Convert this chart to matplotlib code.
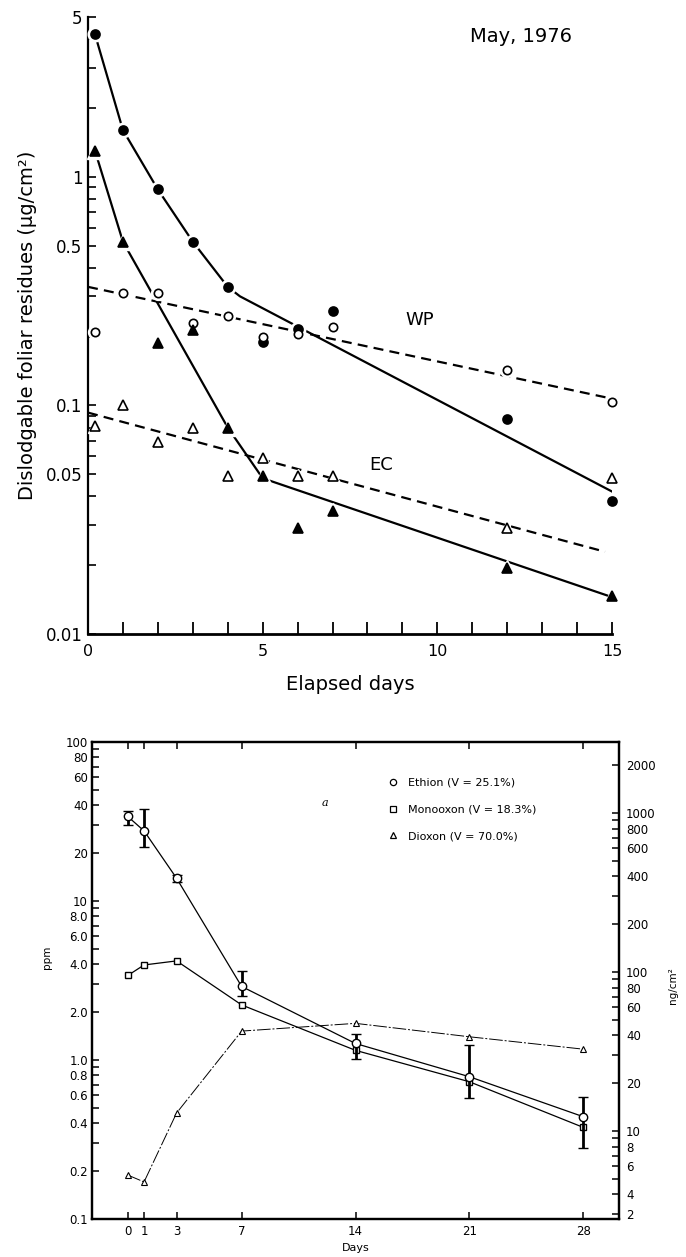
import matplotlib
matplotlib.use("Agg")
import matplotlib.pyplot as plt
from matplotlib.ticker import FixedLocator, FixedFormatter, NullFormatter, LogLocator, MultipleLocator
from matplotlib.lines import Line2D
import numpy as np

plt.rcParams['font.family'] = ['DejaVu Sans']

# ---------------- top panel data (May, 1976) ----------------
top_days = [0.2, 1, 2, 3, 4, 5, 6, 7, 12, 15]
wp_filled = [4.2, 1.6, 0.88, 0.52, 0.33, 0.19, 0.215, 0.26, 0.087, 0.038]      # filled circles
wp_open = [0.21, 0.31, 0.31, 0.23, 0.247, 0.20, 0.205, 0.22, 0.143, 0.103]     # open circles
ec_filled = [1.3, 0.52, 0.188, 0.214, 0.080, 0.049, 0.029, 0.0345, 0.0195, 0.0147]  # filled triangles
ec_open = [0.081, 0.100, 0.069, 0.080, 0.049, 0.059, 0.049, 0.049, 0.029, 0.048]   # open triangles

# drawn curves / fitted lines
wp_curve_days = [0.2, 1, 2, 3, 4, 4.35, 15]
wp_curve_vals = [4.2, 1.6, 0.88, 0.52, 0.33, 0.30, 0.042]
ec_curve_days = [0.2, 1, 4, 5, 15]
ec_curve_vals = [1.3, 0.52, 0.080, 0.048, 0.0145]
wp_fit_days = [0, 15]
wp_fit_vals = [0.33, 0.107]
ec_fit_days = [0, 14.8]
ec_fit_vals = [0.093, 0.0229]

top_yticks = [0.01, 0.05, 0.1, 0.5, 1, 5]
top_yticklabels = ['0.01', '0.05', '0.1', '0.5', '1', '5']
top_xticks = [0, 5, 10, 15]

# ---------------- bottom panel data ----------------
days = [0, 1, 3, 7, 14, 21, 28]
ethion = [34, 27.6, 13.9, 2.9, 1.27, 0.785, 0.44]
ethion_lo = [30, 21.8, 13.2, 2.52, 1.01, 0.574, 0.281]
ethion_hi = [37, 37.9, 14.6, 3.64, 1.46, 1.24, 0.588]
monooxon = [3.4, 3.96, 4.2, 2.22, 1.15, 0.73, 0.377]
dioxon = [0.189, 0.171, 0.464, 1.52, 1.70, 1.40, 1.17]

left_ticks = [0.1, 0.2, 0.4, 0.6, 0.8, 1.0, 2.0, 4.0, 6.0, 8.0, 10, 20, 40, 60, 80, 100]
left_labels = ['0.1', '0.2', '0.4', '0.6', '0.8', '1.0', '2.0', '4.0', '6.0', '8.0',
               '10', '20', '40', '60', '80', '100']
left_minor = [0.3, 0.5, 0.7, 0.9, 3, 5, 7, 9, 30, 50, 70, 90]
ppm_to_ng = 28.0
right_ticks = [3, 4, 6, 8, 10, 20, 40, 60, 80, 100, 200, 400, 600, 800, 1000, 2000]
right_labels = ['2', '4', '6', '8', '10', '20', '40', '60', '80', '100',
                '200', '400', '600', '800', '1000', '2000']
right_minor = [5, 7, 9, 30, 50, 70, 90, 300, 500, 700, 900]
legend_labels = ['Ethion (V = 25.1%)', 'Monooxon (V = 18.3%)', 'Dioxon (V = 70.0%)']

W, H = 686, 1257
fig = plt.figure(figsize=(W / 100, H / 100), dpi=100)

# ======================= TOP PANEL =======================
ax1 = fig.add_axes([88 / W, 1 - 634 / H, 524 / W, 617 / H])
ax1.set_yscale('log')
ax1.set_ylim(0.01, 5)
ax1.set_xlim(0, 15)
for s in ['top', 'right']:
    ax1.spines[s].set_visible(False)
ax1.spines['left'].set_linewidth(1.6)
ax1.spines['bottom'].set_linewidth(2.0)

ax1.yaxis.set_major_locator(FixedLocator(top_yticks))
ax1.yaxis.set_major_formatter(FixedFormatter(top_yticklabels))
ax1.yaxis.set_minor_locator(LogLocator(base=10, subs=np.arange(2, 10)))
ax1.yaxis.set_minor_formatter(NullFormatter())
ax1.xaxis.set_major_locator(FixedLocator(top_xticks))
ax1.xaxis.set_minor_locator(MultipleLocator(1))
ax1.tick_params(axis='y', which='both', direction='in', length=6, width=1.2, labelsize=12, pad=4)
ax1.tick_params(axis='x', which='both', direction='in', length=9, width=1.3, labelsize=11.5, pad=7)

lw = 1.6
ax1.plot(wp_curve_days, wp_curve_vals, color='black', lw=lw, zorder=2)
ax1.plot(ec_curve_days, ec_curve_vals, color='black', lw=lw, zorder=2)
ax1.plot(wp_fit_days, wp_fit_vals, color='black', lw=lw, ls=(0, (4.5, 2.8)), zorder=2)
ax1.plot(ec_fit_days, ec_fit_vals, color='black', lw=lw, ls=(0, (4.5, 2.8)), zorder=2)

series = [(wp_filled, 'o', True, 6.5), (wp_open, 'o', False, 6.0),
          (ec_filled, '^', True, 7.0), (ec_open, '^', False, 6.5)]
for vals, m, filled, ms in series:
    ax1.plot(top_days, vals, ls='none', marker=m, ms=ms + 4, mfc='white', mec='white',
             zorder=3, clip_on=False)
for vals, m, filled, ms in series:
    ax1.plot(top_days, vals, ls='none', marker=m, ms=ms, mfc='black' if filled else 'white',
             mec='black', mew=1.2, zorder=4, clip_on=False)

ax1.text(12.4, 4.1, 'May, 1976', fontsize=14, ha='center', va='center')
ax1.text(9.5, 0.236, 'WP', fontsize=13, ha='center', va='center')
ax1.text(8.4, 0.055, 'EC', fontsize=13, ha='center', va='center')
ax1.set_xlabel('Elapsed days', fontsize=14, labelpad=12)
ax1.set_ylabel('Dislodgable foliar residues (μg/cm²)', fontsize=14, labelpad=6)

# ======================= BOTTOM PANEL =======================
ax2 = fig.add_axes([92 / W, 38 / H, 527 / W, 477 / H])
ax2.set_yscale('log')
ax2.set_ylim(0.1, 100)
ax2.set_xlim(-2.2, 30.2)
for s in ax2.spines.values():
    s.set_linewidth(1.6)
ax2.yaxis.set_major_locator(FixedLocator(left_ticks))
ax2.yaxis.set_major_formatter(FixedFormatter(left_labels))
ax2.yaxis.set_minor_locator(FixedLocator(left_minor))
ax2.yaxis.set_minor_formatter(NullFormatter())
ax2.xaxis.set_major_locator(FixedLocator(days))
ax2.xaxis.set_minor_locator(FixedLocator([]))
ax2.tick_params(axis='y', which='both', direction='in', length=5, width=1.1, labelsize=8.5, pad=3)
ax2.tick_params(axis='x', which='both', direction='in', length=5, width=1.1, labelsize=8.5,
                pad=4, top=True)

err = [np.array(ethion) - np.array(ethion_lo), np.array(ethion_hi) - np.array(ethion)]
ax2.errorbar(days, ethion, yerr=err, fmt='-o', color='black', lw=0.9, ms=6, mfc='white',
             mec='black', mew=1.0, ecolor='black', elinewidth=2.0, capsize=3.5, capthick=2.0,
             zorder=4)
ax2.plot(days, monooxon, '-s', color='black', lw=0.9, ms=4.5, mfc='white', mec='black',
         mew=1.0, zorder=3)
ax2.plot(days, dioxon, color='black', lw=0.7, ls=(0, (14, 2, 2, 2)), marker='^', ms=4,
         mfc='white', mec='black', mew=0.8, zorder=3)

ax3 = ax2.twinx()
ax3.set_yscale('log')
ax3.set_ylim(0.1 * ppm_to_ng, 100 * ppm_to_ng)
ax3.yaxis.set_major_locator(FixedLocator(right_ticks))
ax3.yaxis.set_major_formatter(FixedFormatter(right_labels))
ax3.yaxis.set_minor_locator(FixedLocator(right_minor))
ax3.yaxis.set_minor_formatter(NullFormatter())
ax3.tick_params(axis='y', which='both', direction='in', length=5, width=1.1, labelsize=8.5, pad=5)
for s in ax3.spines.values():
    s.set_linewidth(1.6)

handles = [Line2D([], [], ls='none', marker='o', ms=4.5, mfc='white', mec='black', mew=0.9),
           Line2D([], [], ls='none', marker='s', ms=4, mfc='white', mec='black', mew=0.9),
           Line2D([], [], ls='none', marker='^', ms=4, mfc='white', mec='black', mew=0.9)]
ax2.legend(handles, legend_labels, loc='upper left', bbox_to_anchor=(0.563, 0.925),
           frameon=False, fontsize=8, labelspacing=1.5, handlelength=0.8, handletextpad=0.9,
           borderaxespad=0, borderpad=0)

ax2.text(0.442, 0.872, 'a', transform=ax2.transAxes, fontsize=8, style='italic',
         family='DejaVu Serif', ha='center', va='center')
ax2.set_xlabel('Days', fontsize=8)
ax2.xaxis.set_label_coords(0.5, -0.05)
ax2.set_ylabel('ppm', fontsize=7.5)
ax2.yaxis.set_label_coords(-0.076, 0.549)
ax3.set_ylabel('ng/cm²', fontsize=7.5, rotation=90)
ax3.yaxis.set_label_coords(1.093, 0.49)

fig.savefig('out.png', dpi=100)
